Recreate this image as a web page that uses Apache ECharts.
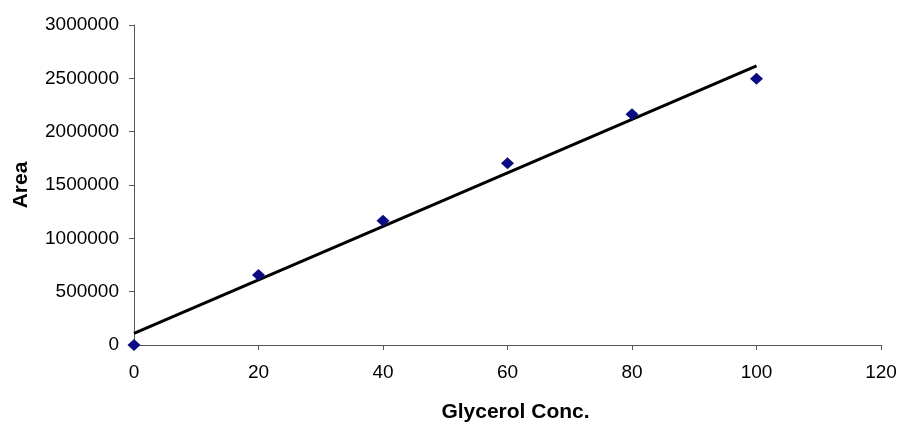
<!DOCTYPE html>
<html>
<head>
<meta charset="utf-8">
<script src="https://cdn.jsdelivr.net/npm/echarts@6/dist/echarts.min.js"></script>
<style>
  html, body { margin: 0; padding: 0; background: #fff; }
  #chart { width: 901px; height: 424px; }
</style>
</head>
<body>
<div id="chart"></div>
<script>
// measured points
const conc = [0, 20, 40, 60, 80, 100];
const area = [0, 656000, 1165000, 1703000, 2163000, 2497000];
// linear trendline end points
const trendX = [0, 100];
const trendY = [109000, 2616000];

const font = "'Liberation Sans', Arial, sans-serif";

const myChart = echarts.init(document.getElementById("chart"));
const option = {
  animation: false,
  backgroundColor: "#ffffff",
  grid: {
    left: 134,
    right: 20,
    top: 25,
    bottom: 79,
    outerBoundsMode: "none",
    containLabel: false,
  },
  xAxis: {
    type: "value",
    min: 0,
    max: 120,
    interval: 20,
    name: "Glycerol Conc.",
    nameLocation: "middle",
    nameGap: 57,
    nameTextStyle: {
      fontFamily: font,
      fontSize: 21,
      fontWeight: "bold",
      color: "#000",
      padding: [0, 0, 0, 16], // title sits a bit right of centre
    },
    axisLine: { lineStyle: { color: "#555", width: 1 } },
    axisTick: { show: true, length: 5, lineStyle: { color: "#555" } },
    axisLabel: { fontFamily: font, fontSize: 19, color: "#000", margin: 18 },
    splitLine: { show: false },
  },
  yAxis: {
    type: "value",
    min: 0,
    max: 3000000,
    interval: 500000,
    name: "Area",
    nameLocation: "middle",
    nameGap: 102,
    nameRotate: 90,
    nameTextStyle: { fontFamily: font, fontSize: 21, fontWeight: "bold", color: "#000" },
    axisLine: { show: true, lineStyle: { color: "#555", width: 1 } },
    axisTick: { show: true, length: 5, lineStyle: { color: "#555" } },
    axisLabel: {
      fontFamily: font,
      fontSize: 19,
      color: "#000",
      margin: 15,
      formatter: (v) => String(v),
    },
    splitLine: { show: false },
  },
  series: [
    {
      type: "line",
      data: trendX.map((x, i) => [x, trendY[i]]),
      symbol: "none",
      lineStyle: { color: "#000", width: 3 },
      z: 2,
    },
    {
      type: "scatter",
      data: conc.map((x, i) => [x, area[i]]),
      symbol: "diamond",
      symbolSize: [13, 12],
      itemStyle: { color: "#0a0a82", opacity: 1 },
      z: 3,
    },
  ],
};
myChart.setOption(option);
</script>
</body>
</html>
